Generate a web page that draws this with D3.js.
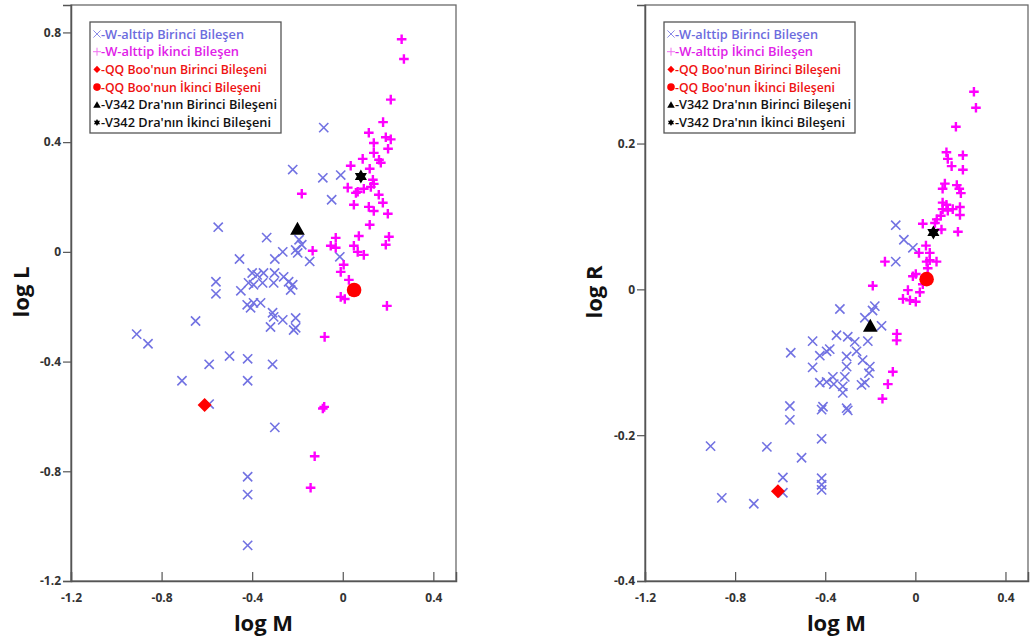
<!DOCTYPE html>
<html><head><meta charset="utf-8">
<script src="https://cdn.jsdelivr.net/npm/d3@7"></script>
<style>body{margin:0;background:#fff}svg{display:block}text{font-family:"Open Sans",sans-serif}</style>
</head><body><svg width="1030" height="637"></svg>
<script>
// ---------- data ----------
const xTicks = [-1.2, -0.8, -0.4, 0, 0.4];
const yTicksL = [-1.2, -0.8, -0.4, 0, 0.4, 0.8];
const yTicksR = [-0.4, -0.2, 0, 0.2];

// W-subtype primary components, log M vs log L
const lPrimM = [-0.084,-0.221,-0.088,-0.009,-0.049,-0.55,-0.336,-0.456,-0.265,-0.30,-0.193,-0.181,-0.208,-0.199,-0.146,-0.013,-0.56,-0.56,-0.45,-0.40,-0.378,-0.35,-0.416,-0.394,-0.354,-0.301,-0.305,-0.261,-0.239,-0.221,-0.23,-0.422,-0.394,-0.363,-0.407,-0.31,-0.305,-0.319,-0.265,-0.208,-0.208,-0.217,-0.65,-0.91,-0.86,-0.50,-0.59,-0.42,-0.31,-0.71,-0.42,-0.59,-0.30,-0.42,-0.42,-0.42];
const lPrimL = [0.453,0.30,0.27,0.28,0.19,0.09,0.052,-0.026,0.0,-0.026,0.044,0.026,0.007,-0.004,-0.035,-0.018,-0.109,-0.153,-0.142,-0.077,-0.084,-0.077,-0.113,-0.12,-0.113,-0.077,-0.113,-0.091,-0.109,-0.12,-0.139,-0.193,-0.186,-0.186,-0.204,-0.222,-0.237,-0.274,-0.248,-0.241,-0.277,-0.285,-0.252,-0.30,-0.335,-0.38,-0.41,-0.39,-0.41,-0.47,-0.47,-0.555,-0.64,-0.82,-0.885,-1.07];
// W-subtype secondary components, log M vs log L
const lSecM = [0.26,0.27,0.212,0.178,0.115,0.19,0.212,0.137,0.20,0.137,0.16,0.168,0.088,0.035,0.119,0.133,0.137,0.124,0.093,0.022,0.066,0.058,0.159,-0.181,0.049,0.177,0.115,0.137,0.199,0.119,0.071,-0.031,0.204,0.19,0.049,-0.053,-0.031,-0.133,0.066,0.093,0.004,-0.009,0.027,-0.009,0.009,0.195,-0.08,-0.088,-0.082,-0.124,-0.142];
const lSecL = [0.775,0.703,0.555,0.473,0.434,0.418,0.41,0.397,0.376,0.361,0.336,0.325,0.339,0.314,0.303,0.263,0.248,0.237,0.23,0.234,0.219,0.215,0.208,0.212,0.172,0.179,0.164,0.149,0.139,0.099,0.058,0.051,0.055,0.026,0.022,0.022,0.015,0.004,0.0,-0.011,-0.047,-0.073,-0.102,-0.164,-0.172,-0.197,-0.31,-0.571,-0.565,-0.745,-0.86];
// W-subtype primary components, log M vs log R
const rPrimM = [-0.087,-0.051,-0.011,-0.087,-0.335,-0.18,-0.19,-0.224,-0.15,-0.456,-0.553,-0.35,-0.30,-0.269,-0.211,-0.424,-0.394,-0.38,-0.305,-0.261,-0.234,-0.456,-0.424,-0.394,-0.366,-0.362,-0.305,-0.313,-0.322,-0.322,-0.206,-0.202,-0.239,-0.224,-0.557,-0.557,-0.41,-0.416,-0.305,-0.30,-0.416,-0.909,-0.659,-0.505,-0.588,-0.416,-0.416,-0.416,-0.588,-0.859,-0.717];
const rPrimR = [0.088,0.068,0.057,0.038,-0.027,-0.023,-0.029,-0.039,-0.05,-0.071,-0.087,-0.063,-0.065,-0.072,-0.071,-0.091,-0.085,-0.082,-0.092,-0.085,-0.097,-0.107,-0.128,-0.127,-0.12,-0.13,-0.106,-0.12,-0.142,-0.133,-0.115,-0.106,-0.131,-0.128,-0.16,-0.179,-0.161,-0.165,-0.163,-0.166,-0.205,-0.215,-0.216,-0.231,-0.258,-0.259,-0.268,-0.275,-0.279,-0.286,-0.294];
// W-subtype secondary components, log M vs log R
const rSecM = [0.26,0.269,0.18,0.138,0.144,0.161,0.211,0.211,0.131,0.121,0.184,0.195,0.202,0.121,0.138,0.121,0.144,0.166,0.198,0.198,0.113,0.095,0.087,0.033,0.116,0.189,0.047,0.016,0.064,0.064,0.05,0.094,-0.135,0.055,-0.011,0.002,-0.189,0.033,-0.033,0.02,-0.055,-0.024,0.002,-0.082,-0.083,-0.10,-0.122,-0.146];
const rSecR = [0.271,0.249,0.223,0.188,0.179,0.169,0.184,0.164,0.145,0.138,0.143,0.138,0.132,0.119,0.116,0.11,0.108,0.11,0.113,0.102,0.101,0.096,0.091,0.09,0.082,0.079,0.06,0.05,0.05,0.04,0.038,0.038,0.038,0.029,0.018,0.021,0.005,0.007,-0.001,-0.004,-0.013,-0.015,-0.017,-0.061,-0.07,-0.113,-0.13,-0.15];
// QQ Boo (primary, secondary) and V342 Dra (primary, secondary)
const qqM = [-0.61, 0.05];
const qqL = [-0.558, -0.139];
const qqR = [-0.277, 0.014];
const vM = [-0.20, 0.08];
const vL = [0.084, 0.275];
const vR = [-0.050, 0.078];

const legendLabels = ["-W-alttip Birinci Bileşen","-W-alttip İkinci Bileşen","-QQ Boo'nun Birinci Bileşeni","-QQ Boo'nun İkinci Bileşeni","-V342 Dra'nın Birinci Bileşeni","-V342 Dra'nın İkinci Bileşeni"];

// ---------- styles ----------
const BLUE = "#7272e2", MAG = "#ff00ff", RED = "#ff0000", BLK = "#000";
const legendColors = ["#6c6cde", "#e020e8", "#ee1111", "#ee1111", "#111", "#111"];
const legendLens = [143, 138, 166, 160, 176, 170];

const svg = d3.select("svg");

function crossPath(x, y, s){ return `M${x-s},${y-s}L${x+s},${y+s}M${x-s},${y+s}L${x+s},${y-s}`; }
function plusPath(x, y, s){ return `M${x-s},${y}L${x+s},${y}M${x},${y-s}L${x},${y+s}`; }
function diamondPath(x, y, s){ return `M${x},${y-s}L${x+s},${y}L${x},${y+s}L${x-s},${y}Z`; }
function triPath(x, y, s){ return `M${x},${y-s}L${x+s*1.05},${y+s*0.85}L${x-s*1.05},${y+s*0.85}Z`; }
function hexPath(x, y, r){
  let p = "";
  [[-90,30,150],[90,210,330]].forEach(t => {
    p += t.map((a,i)=>(i?"L":"M")+(x+r*Math.cos(a*Math.PI/180))+","+(y+r*Math.sin(a*Math.PI/180))).join("")+"Z";
  });
  return p;
}

function panel(cfg){
  const g = svg.append("g");
  const x = d3.scaleLinear().domain([-1.2, 0.5]).range([cfg.left, cfg.right]);
  const y = d3.scaleLinear().domain(cfg.yDomain).range([581, 5]);
  const fmt = d => d === 0 ? "0" : String(d);

  // frame
  g.append("rect").attr("x", cfg.left).attr("y", 5).attr("width", cfg.right-cfg.left).attr("height", 576)
    .attr("fill", "none").attr("stroke", "#6a6a6a").attr("stroke-width", 1.3);

  // x axis (ticks inward)
  const xa = g.append("g").attr("transform", `translate(0,581)`)
    .call(d3.axisBottom(x).tickValues(xTicks).tickSize(-9).tickFormat(fmt).tickPadding(12));
  xa.select(".domain").attr("stroke", "#555").attr("stroke-width", 1.5);
  xa.selectAll(".tick line").attr("stroke", "#555").attr("stroke-width", 1.2);
  xa.selectAll("text").attr("font-size", 12).attr("font-weight", 700).attr("fill", "#333");

  // y axis (ticks outward)
  const ya = g.append("g").attr("transform", `translate(${cfg.left},0)`)
    .call(d3.axisLeft(y).tickValues(cfg.yTicks).tickSize(8).tickFormat(fmt).tickPadding(2));
  ya.select(".domain").attr("stroke", "#555").attr("stroke-width", 1.5);
  ya.selectAll(".tick line").attr("stroke", "#555").attr("stroke-width", 1.2);
  ya.selectAll("text").attr("font-size", 12).attr("font-weight", 700).attr("fill", "#333");

  // titles
  g.append("text").attr("x", (cfg.left+cfg.right)/2).attr("y", 631).attr("text-anchor", "middle")
    .attr("font-size", 22).attr("font-weight", 700).attr("fill", "#111").text("log M");
  g.append("text").attr("transform", `translate(${cfg.titleX},292) rotate(-90)`).attr("text-anchor", "middle")
    .attr("font-size", 22).attr("font-weight", 700).attr("fill", "#111").text(cfg.yTitle);

  // data
  const pts = (ms, vs) => ms.map((m, i) => [x(m), y(vs[i])]);
  g.append("g").selectAll("path").data(pts(cfg.pm, cfg.pv)).join("path")
    .attr("d", d => crossPath(d[0], d[1], 4.6)).attr("stroke", BLUE).attr("stroke-width", 1.6).attr("fill", "none");
  g.append("g").selectAll("path").data(pts(cfg.sm, cfg.sv)).join("path")
    .attr("d", d => plusPath(d[0], d[1], 4.8)).attr("stroke", MAG).attr("stroke-width", 2.4).attr("fill", "none");
  const qq = pts(qqM, cfg.qv), v = pts(vM, cfg.vv);
  g.append("path").attr("d", diamondPath(qq[0][0], qq[0][1], 7)).attr("fill", RED);
  g.append("circle").attr("cx", qq[1][0]).attr("cy", qq[1][1]).attr("r", 7.3).attr("fill", RED);
  g.append("path").attr("d", triPath(v[0][0], v[0][1], 7)).attr("fill", BLK);
  g.append("path").attr("d", hexPath(v[1][0], v[1][1], 7)).attr("fill", BLK);

  // legend
  const lx = cfg.left + 19, ly = 22;
  const lg = g.append("g");
  lg.append("rect").attr("x", lx).attr("y", ly).attr("width", 191).attr("height", 111)
    .attr("fill", "#fff").attr("stroke", "#555").attr("stroke-width", 1.3);
  legendLabels.forEach((t, i) => {
    const cy = 34 + i*17.7, sx = lx + 7;
    if (i === 0) lg.append("path").attr("d", crossPath(sx, cy, 3.6)).attr("stroke", "#8c8ce8").attr("stroke-width", 1).attr("fill", "none");
    if (i === 1) lg.append("path").attr("d", plusPath(sx, cy, 4)).attr("stroke", "#f070f0").attr("stroke-width", 1).attr("fill", "none");
    if (i === 2) lg.append("path").attr("d", diamondPath(sx, cy, 3.6)).attr("fill", RED);
    if (i === 3) lg.append("circle").attr("cx", sx).attr("cy", cy).attr("r", 3.8).attr("fill", RED);
    if (i === 4) lg.append("path").attr("d", triPath(sx, cy, 3.6)).attr("fill", BLK);
    if (i === 5) lg.append("path").attr("d", hexPath(sx, cy, 3.6)).attr("fill", BLK);
    lg.append("text").attr("x", sx + 4).attr("y", cy + 4.5).attr("font-size", 13).attr("font-weight", 600)
      .attr("textLength", legendLens[i]).attr("lengthAdjust", "spacingAndGlyphs")
      .attr("fill", legendColors[i]).text(t);
  });
}

panel({left: 71, right: 456, yDomain: [-1.2, 0.9], yTicks: yTicksL, yTitle: "log L", titleX: 29,
  pm: lPrimM, pv: lPrimL, sm: lSecM, sv: lSecL, qv: qqL, vv: vL});
panel({left: 645, right: 1028, yDomain: [-0.4, 0.39], yTicks: yTicksR, yTitle: "log R", titleX: 602,
  pm: rPrimM, pv: rPrimR, sm: rSecM, sv: rSecR, qv: qqR, vv: vR});
</script></body></html>
